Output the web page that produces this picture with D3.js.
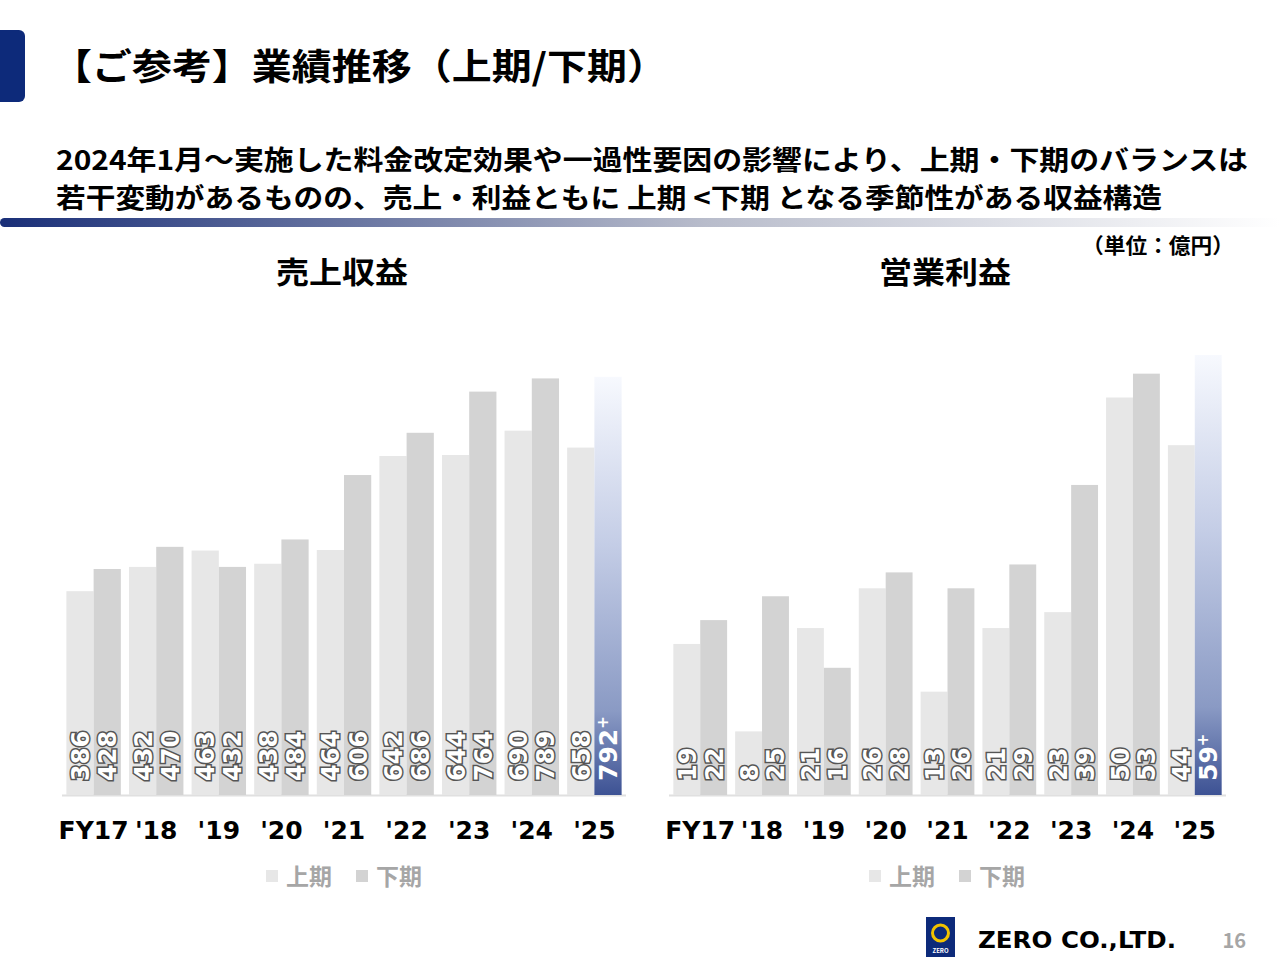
<!DOCTYPE html>
<html><head><meta charset="utf-8">
<script src="https://cdn.jsdelivr.net/npm/d3@7"></script>
<style>body{margin:0;background:#fff}svg{font-family:"Noto Sans CJK JP","Noto Sans",sans-serif;font-weight:700}</style>
</head><body><svg id="c" width="1280" height="960"></svg>
<script>
const years = ["FY17","'18","'19","'20","'21","'22","'23","'24","'25"];
const revFirst = [386,432,463,438,464,642,644,690,658];
const revSecond = [428,470,432,484,606,686,764,789,792];
const opFirst = [19,8,21,26,13,21,23,50,44];
const opSecond = [22,25,16,28,26,29,39,53,59];
const seriesNames = ["上期","下期"];

const svg = d3.select("#c");
const defs = svg.append("defs");
const lg = defs.append("linearGradient").attr("id","hl").attr("x1",0).attr("x2",1);
lg.append("stop").attr("offset",0).attr("stop-color","#1a2f78");
lg.append("stop").attr("offset",0.55).attr("stop-color","#b8bccb");
lg.append("stop").attr("offset",1).attr("stop-color","#ffffff");
const bg = defs.append("linearGradient").attr("id","bb").attr("x1",0).attr("x2",0).attr("y1",1).attr("y2",0);
bg.append("stop").attr("offset",0).attr("stop-color","#3d5294");
bg.append("stop").attr("offset",0.2).attr("stop-color","#8a9ac4");
bg.append("stop").attr("offset",0.6).attr("stop-color","#c4cde6");
bg.append("stop").attr("offset",1).attr("stop-color","#f7f9fe");

function fit(t,len){return t.attr("textLength",len).attr("lengthAdjust","spacingAndGlyphs");}
svg.append("rect").attr("x",-8).attr("y",30).attr("width",33).attr("height",72).attr("rx",6).attr("fill","#0d2a7a");
fit(svg.append("text").attr("x",52).attr("y",80).attr("font-size",36).text("【ご参考】業績推移（上期/下期）"),615);
fit(svg.append("text").attr("x",56).attr("y",170).attr("font-size",27).text("2024年1月～実施した料金改定効果や一過性要因の影響により、上期・下期のバランスは"),1192);
fit(svg.append("text").attr("x",56).attr("y",208).attr("font-size",27).text("若干変動があるものの、売上・利益ともに 上期 <下期 となる季節性がある収益構造"),1106);
svg.append("rect").attr("x",0).attr("y",218).attr("width",1280).attr("height",9).attr("rx",4.5).attr("fill","url(#hl)");
fit(svg.append("text").attr("x",1082).attr("y",253).attr("font-size",21).text("（単位：億円）"),152);

function chart(title, cx, x0, x1, first, second, pxPerUnit, topY){
  const base = 795;
  fit(svg.append("text").attr("x",cx-66).attr("y",283).attr("font-size",30).text(title),132);
  const x = d3.scaleBand().domain(years).range([x0,x1]).paddingInner(0.13).paddingOuter(0.07);
  const maxV = d3.max(second);
  const y = d3.scaleLinear().domain([0,maxV]).range([base, base - maxV*pxPerUnit]);
  const yy = v => Math.max(topY, y(v));
  const w = x.bandwidth()/2;
  svg.append("line").attr("x1",x0).attr("x2",x1).attr("y1",base+0.5).attr("y2",base+0.5).attr("stroke","#e0e0e0").attr("stroke-width",2);
  const g = svg.append("g");
  years.forEach((yr,i)=>{
    const bx = x(yr);
    g.append("rect").attr("x",bx).attr("y",yy(first[i])).attr("width",w).attr("height",base-yy(first[i])).attr("fill","#e7e7e7");
    const last = i===years.length-1;
    g.append("rect").attr("x",bx+w).attr("y",yy(second[i])).attr("width",w).attr("height",base-yy(second[i])).attr("fill", last?"url(#bb)":"#d3d3d3");
    [[first[i],bx+w/2,false],[second[i],bx+w*1.5,last]].forEach(([v,lx,blue])=>{
      const t = g.append("text").attr("transform",`translate(${lx+9},${base-14}) rotate(-90)`)
        .attr("font-size",blue?25:24).attr("font-family","'DejaVu Sans',sans-serif").attr("font-weight",700)
        .attr("fill","#fff").attr("stroke",blue?"none":"#555").attr("stroke-width",blue?0:3).attr("paint-order","stroke");
      t.append("tspan").text(v);
      if(blue) t.append("tspan").attr("dy",-9).attr("font-size",15).text("+");
    });
    svg.append("text").attr("x",bx+x.bandwidth()/2).attr("y",base+44).attr("font-size",25).attr("font-family","'DejaVu Sans',sans-serif").attr("font-weight",700).attr("text-anchor","middle").text(yr);
  });
  const lgx = cx - 76;
  const colors = ["#e7e7e7","#d3d3d3"];
  seriesNames.forEach((n,i)=>{
    const ox = lgx + i*90;
    svg.append("rect").attr("x",ox).attr("y",870).attr("width",12).attr("height",12).attr("fill",colors[i]);
    svg.append("text").attr("x",ox+20).attr("y",885).attr("font-size",23).attr("fill","#a6a6a6").text(n);
  });
}
chart("売上収益",342,62,626,revFirst,revSecond,0.528,370);
chart("営業利益",945,669,1226,opFirst,opSecond,7.95,355);

svg.append("rect").attr("x",926).attr("y",917).attr("width",29).attr("height",40).attr("fill","#0d2a7a");
svg.append("circle").attr("cx",940.5).attr("cy",933).attr("r",8).attr("fill","none").attr("stroke","#f2c200").attr("stroke-width",3);
svg.append("text").attr("x",940.5).attr("y",953).attr("font-size",6).attr("fill","#fff").attr("text-anchor","middle").text("ZERO");
fit(svg.append("text").attr("x",978).attr("y",948).attr("font-size",23).attr("font-family","'DejaVu Sans',sans-serif").attr("font-weight",700).text("ZERO CO.,LTD."),198);
svg.append("text").attr("x",1246).attr("y",948).attr("font-size",20).attr("fill","#a6a6a6").attr("text-anchor","end").text("16");
</script></body></html>
